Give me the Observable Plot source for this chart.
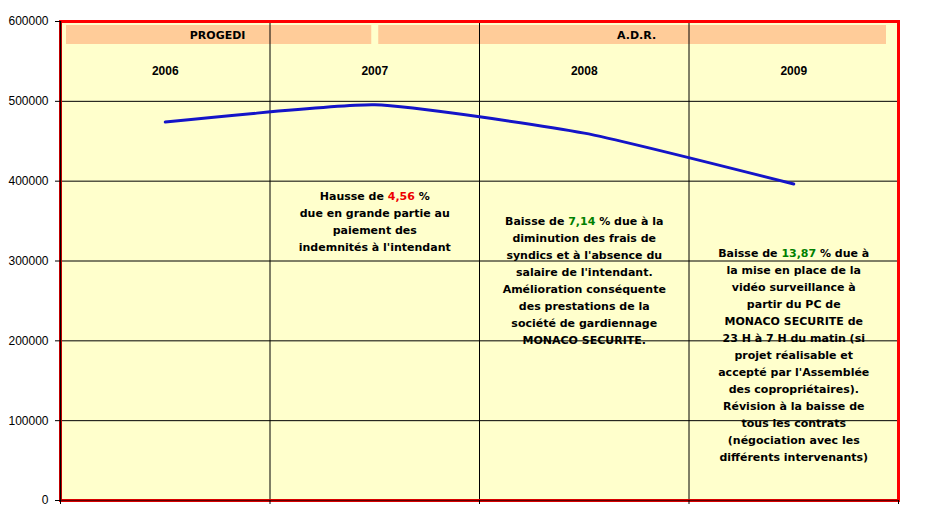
<!DOCTYPE html>
<html>
<head>
<meta charset="utf-8">
<script src="https://cdn.jsdelivr.net/npm/d3@7"></script>
<script src="https://cdn.jsdelivr.net/npm/@observablehq/plot@0.6"></script>
<style>
  html, body { margin: 0; padding: 0; background: #ffffff; }
  #chart svg { display: block; }
</style>
</head>
<body>
<div id="chart"></div>
<script>
// ---- data ----
const years = ["2006", "2007", "2008", "2009"];
const costs = [474000, 495600, 460200, 396400];
const yTicks = [0, 100000, 200000, 300000, 400000, 500000, 600000];
const periods = ["PROGEDI", "A.D.R."];
const periodFrom = [0, 1.5];   // in year-index units
const periodTo = [1.5, 4];
const notes = [
  "",
  "Hausse de 4,56 %\ndue en grande partie au\npaiement des\nindemnités à l'intendant",
  "Baisse de 7,14 % due à la\ndiminution des frais de\nsyndics et à l'absence du\nsalaire de l'intendant.\nAmélioration conséquente\ndes prestations de la\nsociété de gardiennage\nMONACO SECURITE.",
  "Baisse de 13,87 % due à\nla mise en place de la\nvidéo surveillance à\npartir du PC de\nMONACO SECURITE de\n23 H à 7 H du matin (si\nprojet réalisable et\naccepté par l'Assemblée\ndes copropriétaires).\nRévision à la baisse de\ntous les contrats\n(négociation avec les\ndifférents intervenants)"
];
const highlights = ["", "4,56", "7,14", "13,87"];
const highlightColors = ["", "#ee0000", "#008000", "#008000"];

// ---- tables ----
const series = years.map((y, i) => ({year: y, i: i + 0.5, value: costs[i]}));
const headerRows = periods.map((p, i) => ({label: p, x1: periodFrom[i], x2: periodTo[i], mid: (periodFrom[i] + periodTo[i]) / 2}));
const noteRows = years.map((y, i) => ({year: y, i: i + 0.5, text: notes[i]}));
const boundaries = d3.range(0, years.length + 1);

const NOTE_FONT = "'DejaVu Sans', sans-serif";
const AX_FONT = "'Liberation Sans', Arial, sans-serif";
const noteDy = [0, 166, 191, 223];

const plot = Plot.plot({
  width: 925,
  height: 511,
  marginLeft: 60,
  marginRight: 27,
  marginTop: 21,
  marginBottom: 11,
  style: {background: "#ffffff", fontFamily: AX_FONT, overflow: "visible"},
  x: {type: "linear", domain: [0, years.length], axis: null},
  y: {type: "linear", domain: [0, 600000], axis: null},
  marks: [
    Plot.frame({fill: "#ffffcc", stroke: "none"}),
    // header bars
    Plot.rect(headerRows.slice(0, 1), {x1: "x1", x2: "x2", fill: "#ffcc99", insetTop: 4, insetBottom: 456, insetLeft: 6, insetRight: 3}),
    Plot.rect(headerRows.slice(1), {x1: "x1", x2: "x2", fill: "#ffcc99", insetTop: 4, insetBottom: 456, insetLeft: 4, insetRight: 12}),
    Plot.text(headerRows, {x: "mid", text: "label", frameAnchor: "top", lineAnchor: "middle", dy: 14, fontFamily: NOTE_FONT, fontWeight: "bold", fontSize: 11, fill: "#000"}),
    // year labels
    Plot.text(series, {x: "i", text: "year", frameAnchor: "top", lineAnchor: "middle", dy: 50, fontFamily: AX_FONT, fontWeight: "bold", fontSize: 12, fill: "#000"}),
    // annotations
    ...noteRows.filter(d => d.text).map(d => Plot.text([d], {
      x: "i", text: "text", frameAnchor: "top", lineAnchor: "top", dy: noteDy[years.indexOf(d.year)],
      fontFamily: NOTE_FONT, fontWeight: "bold", fontSize: 11, lineHeight: 1.545, fill: "#000", textAnchor: "middle"
    })),
    // grid
    Plot.ruleY(yTicks.slice(1, -1), {stroke: "#000", strokeWidth: 1}),
    Plot.ruleX(boundaries.slice(1, -1), {stroke: "#000", strokeWidth: 1}),
    // line
    Plot.line(series, {x: "i", y: "value", stroke: "#1414c8", strokeWidth: 3, curve: "cardinal", tension: 0.5}),
    // frame
    Plot.frame({stroke: "#ff0000", strokeWidth: 3}),
    Plot.ruleX([0], {stroke: "#000", strokeWidth: 1.5}),
    Plot.ruleY([0], {stroke: "#600000", strokeWidth: 1.5}),
    // axes
    Plot.axisY({ticks: yTicks, tickFormat: d => String(d), tickSize: 5, tickPadding: 7, fontSize: 12, fontFamily: AX_FONT, stroke: "#000", fill: "#000", label: null}),
    Plot.axisX({ticks: boundaries, tickFormat: () => "", tickSize: 4, stroke: "#000", label: null})
  ]
});

document.getElementById("chart").appendChild(plot);

// colour the percentage figures inside the annotations
plot.querySelectorAll("tspan").forEach(ts => {
  const t = ts.textContent;
  highlights.forEach((h, k) => {
    if (!h) return;
    const idx = t.indexOf(h + " %");
    if (idx >= 0) {
      ts.textContent = "";
      ts.appendChild(document.createTextNode(t.slice(0, idx)));
      const c = document.createElementNS("http://www.w3.org/2000/svg", "tspan");
      c.setAttribute("fill", highlightColors[k]);
      c.textContent = h;
      ts.appendChild(c);
      ts.appendChild(document.createTextNode(t.slice(idx + h.length)));
    }
  });
});
</script>
</body>
</html>
